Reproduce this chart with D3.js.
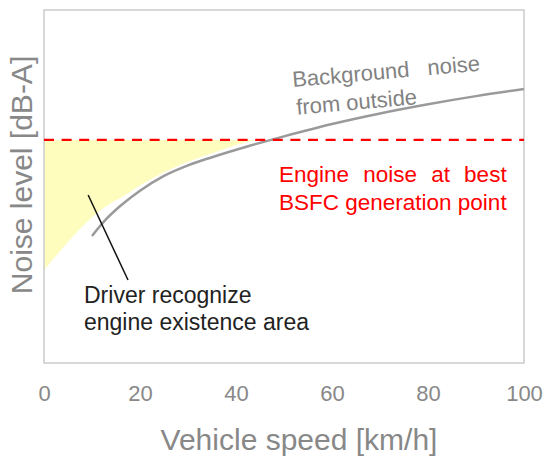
<!DOCTYPE html>
<html>
<head>
<meta charset="utf-8">
<script src="https://cdn.jsdelivr.net/npm/d3@7"></script>
<style>
  body { margin: 0; background: #fff; }
  svg { font-family: "Liberation Sans", Arial, sans-serif; }
</style>
</head>
<body>
<div id="chart"></div>
<script>
// background noise curve (speed km/h, noise level, arbitrary units 0-100)
var bgSpeed = [10, 13, 16, 20, 25, 30, 35, 42, 50, 60, 70, 80, 90, 100];
var bgNoise = [36, 40.8, 44.6, 48.8, 53, 56, 58.3, 61.2, 64.2, 67.7, 70.7, 73.3, 75.6, 77.6];

// lower edge of the "driver recognizes engine" area
var areaSpeed = [0, 14.4, 15.8, 21.4, 28.3, 35.2, 41.5, 44];
var areaNoise = [26.3, 45.7, 46.7, 51.4, 56.1, 59.5, 62.3, 63.2];

// engine noise at best BSFC point
var engineNoise = 63.2;

var xTicks = [0, 20, 40, 60, 80, 100];

var width = 544, height = 457;
var margin = { top: 10, right: 20, bottom: 94, left: 44 };

var svg = d3.select("#chart")
  .append("svg")
  .attr("width", width)
  .attr("height", height);

var x = d3.scaleLinear().domain([0, 100]).range([margin.left, width - margin.right]);
var y = d3.scaleLinear().domain([0, 100]).range([height - margin.bottom, margin.top]);

// yellow area between edge and the engine noise line
var areaData = areaSpeed.map(function (s, i) { return { s: s, n: areaNoise[i] }; });
var area = d3.area()
  .x(function (d) { return x(d.s); })
  .y0(function (d) { return y(d.n); })
  .y1(y(engineNoise))
  .curve(d3.curveMonotoneX);

svg.append("path")
  .datum(areaData)
  .attr("d", area)
  .attr("fill", "#fefdbd");

// frame
svg.append("rect")
  .attr("x", x(0))
  .attr("y", y(100))
  .attr("width", x(100) - x(0))
  .attr("height", y(0) - y(100))
  .attr("fill", "none")
  .attr("stroke", "#cfcfcf")
  .attr("stroke-width", 1.6);

// background noise curve
var bgData = bgSpeed.map(function (s, i) { return { s: s, n: bgNoise[i] }; });
var line = d3.line()
  .x(function (d) { return x(d.s); })
  .y(function (d) { return y(d.n); })
  .curve(d3.curveMonotoneX);

svg.append("path")
  .datum(bgData)
  .attr("d", line)
  .attr("fill", "none")
  .attr("stroke", "#9a9a9a")
  .attr("stroke-width", 2.5);

// engine noise dashed line
svg.append("line")
  .attr("x1", x(0))
  .attr("x2", x(100))
  .attr("y1", y(engineNoise))
  .attr("y2", y(engineNoise))
  .attr("stroke", "#ff0000")
  .attr("stroke-width", 2.2)
  .attr("stroke-dasharray", "10,7.6");

// pointer line for the area annotation
svg.append("line")
  .attr("x1", x(9.2)).attr("y1", y(47.6))
  .attr("x2", x(17.5)).attr("y2", y(23.5))
  .attr("stroke", "#111")
  .attr("stroke-width", 1.5);

// x axis
var xAxis = svg.append("g")
  .attr("transform", "translate(0," + y(0) + ")")
  .call(d3.axisBottom(x).tickValues(xTicks).tickSize(0).tickPadding(0));
xAxis.select(".domain").remove();
xAxis.selectAll("text")
  .attr("y", 38)
  .attr("dy", null)
  .attr("font-size", 22)
  .attr("font-family", "Liberation Sans, Arial, sans-serif")
  .attr("fill", "#888");

// axis titles
svg.append("text")
  .attr("x", 299)
  .attr("y", 450)
  .attr("text-anchor", "middle")
  .attr("font-size", 30)
  .attr("fill", "#888")
  .text("Vehicle speed [km/h]");

svg.append("text")
  .attr("transform", "translate(32,175) rotate(-90)")
  .attr("text-anchor", "middle")
  .attr("font-size", 30)
  .attr("fill", "#888")
  .text("Noise level [dB-A]");

// background noise label
var bgLabel = svg.append("text")
  .attr("transform", "translate(293,87) rotate(-5)")
  .attr("font-size", 22)
  .attr("fill", "#828282");
bgLabel.append("tspan").attr("x", 0).attr("y", 0)
  .attr("word-spacing", 12)
  .text("Background noise");
bgLabel.append("tspan").attr("x", 1.5).attr("y", 28)
  .text("from outside");

// engine noise label (first line justified to the second)
var redLabel = svg.append("text")
  .attr("font-size", 22.5)
  .attr("fill", "#ff0000");
var red1 = redLabel.append("tspan").attr("x", 279).attr("y", 182).text("Engine noise at best");
var red2 = redLabel.append("tspan").attr("x", 279).attr("y", 210).text("BSFC generation point");
var w1 = red1.node().getComputedTextLength();
var w2 = red2.node().getComputedTextLength();
red1.attr("word-spacing", Math.max(0, (w2 - w1) / 3));

// area label
var areaLabel = svg.append("text")
  .attr("font-size", 23)
  .attr("fill", "#222");
areaLabel.append("tspan").attr("x", 84).attr("y", 303).text("Driver recognize");
areaLabel.append("tspan").attr("x", 84).attr("y", 330).text("engine existence area");
</script>
</body>
</html>
